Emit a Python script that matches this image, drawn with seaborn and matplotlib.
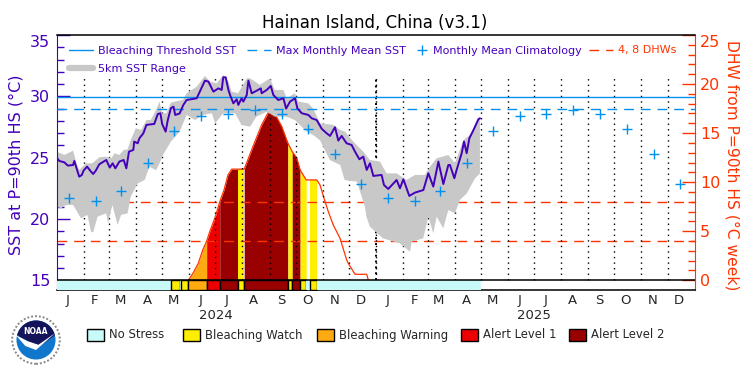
# Hainan Island bleaching chart, SST on the left axis and DHW on the right one
import numpy as np
import pandas as pd
import seaborn as sns
import matplotlib.pyplot as plt
from matplotlib.lines import Line2D
from matplotlib.patches import Patch, Circle, Polygon, Wedge

# all x values are days since 2024-01-01
sst_days = [0, 3.2, 9, 13, 19, 20.4, 23, 26, 29, 31, 35, 39.5, 42, 45, 49, 57, 61, 64.3, 67.4, 72, 77, 80, 83, 88, 89,
            93, 95, 99.5, 103, 112, 116, 119, 121, 125, 127.5, 131, 134, 136, 141, 145.3, 149, 160.6, 163.6, 170, 174,
            179.7, 185.4, 189.2, 191, 193.8, 196.9, 198.8, 202.6, 206.4, 208.3, 212, 214, 217.9, 219.8, 223.6, 229.3,
            234, 235, 240.8, 245.4, 248.4, 254, 259.9, 263, 267.5, 273.2, 275.9, 280.9, 288.5, 292.3, 298, 303.8,
            309.4, 313.3, 319, 322.8, 326.6, 332.3, 338, 341.9, 346.9, 351.4, 355.3, 359, 362.9, 372.4, 375.1, 380,
            389.6, 393.4, 397.3, 404.1, 410.6, 420.2, 425.9, 431.6, 437.4, 443.1, 448.8, 450.7, 455.7, 458.3, 464.1,
            466.8, 469.8, 472.9, 476.7, 479.4, 483.2, 485.1]
sst_vals = [25.03, 24.73, 24.62, 24.35, 24.40, 24.73, 24.13, 23.45, 23.59, 23.94, 24.27, 23.86, 23.67, 23.94, 24.46,
            24.81, 24.19, 24.54, 24.13, 24.68, 24.81, 24.13, 25.49, 25.63, 26.31, 26.17, 26.58, 26.99, 27.67, 27.75,
            28.56, 28.62, 27.75, 27.12, 28.07, 29.03, 29.16, 28.48, 28.6, 29.3, 29.7, 29.84, 30.3, 31.28, 31.2, 30.38,
            30.65, 30.52, 31.55, 31.55, 30.52, 30.11, 29.43, 29.76, 29.3, 29.84, 29.57, 30.11, 31.28, 30.25, 30.46,
            30.65, 30.25, 30.52, 30.85, 30.11, 29.7, 29.84, 29.0, 29.57, 29.84, 29.02, 28.62, 28.48, 28.21, 28.07,
            27.35, 26.99, 26.77, 27.48, 26.39, 26.77, 26.17, 26.04, 25.49, 24.87, 25.08, 24.0, 24.54, 23.51, 23.59,
            22.77, 22.45, 23.18, 22.5, 23.24, 21.88, 22.15, 22.36, 23.73, 22.64, 24.68, 22.85, 24.4, 24.4, 23.32, 24.0,
            25.36, 26.31, 25.36, 26.58, 27.12, 27.53, 28.13, 28.21]

range_top_days = [0, 9, 19, 23, 26, 34, 41, 49, 57, 63, 66.5, 72, 77, 81.5, 85, 91, 97, 103, 108, 114, 118, 121, 126,
                  131, 145, 149, 160.6, 170, 176, 183.5, 191, 197, 200.7, 208, 218, 221.7, 233, 244.6, 250, 260,
                  263.7, 273, 277, 288.5, 294, 302, 317, 325, 330.4, 340, 351.4, 359, 370.5, 378, 389.6, 401, 410.6,
                  422, 427.8, 435.4, 448.8, 456.4, 466, 473.6, 485]
range_top = [25.49, 25.22, 25.57, 24.54, 24.0, 24.54, 24.54, 25.03, 25.08, 24.95, 25.36, 25.22, 25.63, 25.68, 26.44,
             27.4, 27.26, 28.07, 28.07, 28.89, 29.57, 28.62, 28.62, 29.49, 29.71, 30.25, 30.79, 31.66, 31.2, 31.06,
             31.74, 31.2, 30.38, 30.25, 31.47, 31.47, 30.93, 31.47, 30.52, 30.52, 29.84, 30.25, 29.57, 29.43, 29.0,
             27.8, 27.67, 27.26, 27.12, 26.31, 25.49, 24.81, 24.68, 23.72, 23.72, 23.18, 23.59, 23.59, 24.27, 24.95,
             25.22, 24.54, 26.44, 26.85, 28.35]
range_low_days = [0, 5, 11, 19, 22.5, 28, 35.5, 39.5, 42, 47, 57, 59, 64, 70, 74, 81.5, 85, 93, 101, 106.5, 114, 118,
                  122, 131, 141, 149, 158.7, 168, 178, 181.6, 191, 204.5, 212, 221.7, 229, 241, 250, 263.7, 273,
                  286.6, 294, 302, 313, 325, 330, 344, 353.3, 355, 359, 374, 393.4, 405, 406.8, 420, 426, 431.6,
                  435.4, 443, 448.8, 456.4, 462, 470, 479.4, 485]
range_low = [21.0, 20.87, 21.14, 21.14, 20.73, 20.05, 20.33, 18.97, 18.9, 20.19, 20.46, 19.65, 21.14, 19.51, 20.33,
             20.46, 21.82, 22.9, 23.18, 24.27, 23.97, 24.54, 25.22, 26.31, 27.12, 28.48, 28.07, 28.48, 28.62, 27.8,
             28.62, 28.62, 27.66, 27.53, 28.34, 28.75, 28.34, 28.34, 28.07, 27.12, 26.85, 26.4, 24.81, 24.4, 23.18,
             23.05, 21.0, 20.19, 19.37, 18.42, 18.01, 17.33, 18.15, 18.42, 20.19, 18.83, 20.19, 19.24, 20.73, 20.46,
             21.55, 22.09, 23.32, 23.72]

climatology = [21.69, 21.44, 22.31, 24.54, 27.2, 28.43, 28.56, 28.89, 28.54, 27.37, 25.28, 22.83]
threshold_sst = 29.93
max_monthly_mean = 28.93

dhw_days = [151, 156.7, 162.4, 167.5, 172, 175.8, 181.5, 187, 191.9, 196.4, 200.7, 208, 215, 225, 235, 242.3, 250.3,
            258, 265, 270, 275.1, 279, 286, 290, 298, 301.8, 307.6, 311.3, 317, 324.7, 332.4, 334.2, 341.9, 355.3,
            357.2]
dhw_vals = [0, 0.78, 1.73, 3.09, 4.0, 5.03, 6.38, 8.0, 9.21, 10.74, 11.33, 11.33, 11.33, 13.63, 15.85, 17.07, 16.94,
            15.67, 13.98, 13.12, 12.48, 11.26, 10.23, 10.23, 10.23, 9.72, 8.02, 7.0, 5.64, 4.29, 2.07, 1.73, 0.61,
            0.61, 0]
dhw_levels = [4, 8]

stress_edges = [0, 131, 141, 143, 151, 172, 187, 208, 215, 265, 270, 279, 286, 290, 298, 486]
stress_level = ['none', 'watch', 'none', 'watch', 'warning', 'alert1', 'alert2', 'watch', 'alert2', 'watch', 'alert2',
                'watch', 'none', 'watch', 'none']
stress_colors = {'none': '#c8fafa', 'watch': '#ffee00', 'warning': '#ffaa11', 'alert1': '#ee0000', 'alert2': '#990000'}
stress_names = {'none': 'No Stress', 'watch': 'Bleaching Watch', 'warning': 'Bleaching Warning',
                'alert1': 'Alert Level 1', 'alert2': 'Alert Level 2'}

month_letters = list('JFMAMJJASOND') * 2
year_labels = ['2024', '2025']

purple = '#4400bb'
blue = '#0090f0'
orange = '#ff3300'
gray = '#c8c8c8'

sns.set_style('white')
plt.rcParams['font.family'] = ['DejaVu Sans']

base = pd.Timestamp('2024-01-01')
month_starts = pd.date_range(base, '2026-01-01', freq='MS')
month_days = np.array((month_starts - base).days)
clim_days = month_days[:-1] + 14

fig = plt.figure(figsize=(7.5, 3.75), dpi=100)
ax = fig.add_axes([56.5 / 750, 85 / 375, 638.2 / 750, 255 / 375])
ax2 = ax.twinx()
# SST goes in front, so the grey range hides the DHW dashes
ax.set_zorder(ax2.get_zorder() + 1)
ax.patch.set_visible(False)

# DHW fill, one piece per stress period
dhw = pd.DataFrame({'day': dhw_days, 'dhw': dhw_vals})
for i, level in enumerate(stress_level):
    if level == 'none':
        continue
    part = dhw[(dhw['day'] >= stress_edges[i]) & (dhw['day'] <= stress_edges[i + 1])]
    if len(part) > 1:
        ax2.fill_between(part['day'], 0, part['dhw'], color=stress_colors[level], linewidth=0, zorder=1)
for level in dhw_levels:
    ax2.axhline(level, color=orange, linewidth=1, dashes=(7, 5), zorder=2)
sns.lineplot(data=dhw, x='day', y='dhw', color=orange, linewidth=0.9, ax=ax2, zorder=3)

# month lines, the one at the new year is heavier
ax.vlines(month_days[1:-1], 15, 31.6, color='black', linestyle=(0, (1, 3)), linewidth=1, zorder=1)
ax.vlines(month_days[12], 15, 31.6, color='black', linestyle=(0, (1, 2)), linewidth=1.4, zorder=1)

ax.fill(np.r_[range_top_days, range_low_days[::-1]], np.r_[range_top, range_low[::-1]], color=gray, linewidth=0, zorder=2)
ax.axhline(threshold_sst, color=blue, linewidth=1, zorder=3)
ax.axhline(max_monthly_mean, color=blue, linewidth=1, dashes=(7, 5), zorder=3)
sns.lineplot(x=sst_days, y=sst_vals, color=purple, linewidth=1.4, ax=ax, zorder=4)
sns.scatterplot(x=clim_days, y=climatology * 2, marker='+', s=42, color=blue, linewidth=1, ax=ax, zorder=5)

# stress bar under the 15 line
for i, level in enumerate(stress_level):
    edge = 'none' if level == 'none' else 'black'
    ax.broken_barh([(stress_edges[i], stress_edges[i + 1] - stress_edges[i])], (14.21, 0.79),
                   facecolor=stress_colors[level], edgecolor=edge, linewidth=1, zorder=3)
ax.axhline(15, color='black', linewidth=1.1, zorder=6)

ax.set_xlim(0, 731)
ax.set_ylim(14.21, 35)
ax2.set_ylim(-0.99, 25)

ax.set_xticks(month_days[:-1] + 13)
ax.set_xticklabels(month_letters, fontsize=9.5)
ax.tick_params(axis='x', length=0, pad=3)
ax.text(month_days[6], -0.10, year_labels[0], transform=ax.get_xaxis_transform(), ha='center', va='center', fontsize=9.5)
ax.text(month_days[18], -0.10, year_labels[1], transform=ax.get_xaxis_transform(), ha='center', va='center', fontsize=9.5)

ax.set_yticks([15, 20, 25, 30, 35])
ax.set_yticks(range(15, 36), minor=True)
ax.tick_params(axis='y', which='major', direction='in', length=9.5, width=1, color=purple, labelcolor=purple,
               labelsize=11.5, pad=4.5, left=True)
ax.tick_params(axis='y', which='minor', direction='in', length=5, width=1, color=purple, left=True)
ax.set_ylabel('SST at P=90th HS (°C)', color=purple, fontsize=11.5, va='center')
ax.yaxis.set_label_coords(-0.0635, 0.49)

ax2.set_yticks([0, 5, 10, 15, 20, 25])
ax2.set_yticks(range(0, 26), minor=True)
ax2.tick_params(axis='y', which='major', direction='in', length=9.5, width=1, color=orange, labelcolor=orange,
                labelsize=11.5, pad=3.8, right=True)
ax2.tick_params(axis='y', which='minor', direction='in', length=5, width=1, color=orange, right=True)
ax2.set_ylabel('DHW from P=90th HS (°C week)', color=orange, fontsize=11.2, rotation=270, va='center')
ax2.yaxis.set_label_coords(1.059, 0.49)

# the top labels sit under the corner of the frame
ax.get_yticklabels()[-1].set_verticalalignment('top')
ax2.get_yticklabels()[-1].set_verticalalignment('top')

for name in ['top', 'bottom']:
    ax.spines[name].set_color('black')
    ax.spines[name].set_linewidth(1.1)
ax.spines['left'].set_color(purple)
ax.spines['right'].set_visible(False)
ax2.spines['right'].set_color(orange)
ax2.spines['left'].set_visible(False)
ax2.spines['top'].set_visible(False)
ax2.spines['bottom'].set_visible(False)
ax.set_xlabel('')
ax2.set_xlabel('')

fig.text(0.5, 1 - 23 / 375, 'Hainan Island, China (v3.1)', ha='center', va='center', fontsize=12, color='black')

# legends inside the plot: each entry has its own place, as the + has a short handle
entries = [(Line2D([], [], color=blue, linewidth=1), 'Bleaching Threshold SST', purple, 69, 50.5, 2.15),
           (Line2D([], [], color=blue, linewidth=1, dashes=(7, 5)), 'Max Monthly Mean SST', purple, 247, 50.5, 2.15),
           (Line2D([], [], color=blue, marker='+', markersize=7, linestyle='none'), 'Monthly Mean Climatology', purple, 416.5, 50.5, 1.0),
           (Line2D([], [], color=orange, linewidth=1, dashes=(7, 5)), '4, 8 DHWs', orange, 589, 50.5, 2.15),
           (Line2D([], [], color=gray, linewidth=4.5), '5km SST Range', purple, 69, 68.7, 2.15)]
for handle, label, color, x_px, y_px, hlen in entries:
    leg = ax.legend([handle], [label], frameon=False, fontsize=8, handlelength=hlen, handletextpad=0.45,
                    loc='center left', bbox_to_anchor=((x_px - 56.5) / 638.2, (290 - y_px) / 255), borderaxespad=0,
                    borderpad=0, labelcolor=color)
    ax.add_artist(leg)
ax.legend_ = None

# stress legend under the plot
level_x = [87, 183, 317, 461, 569]
for key, x_px in zip(stress_colors, level_x):
    fig.legend([Patch(facecolor=stress_colors[key], edgecolor='black', linewidth=1)], [stress_names[key]], frameon=False,
               fontsize=8.4, handlelength=1.45, handleheight=1.2, handletextpad=0.43, loc='center left',
               bbox_to_anchor=(x_px / 750, 1 - 335 / 375), borderaxespad=0, borderpad=0)

# NOAA logo
logo = fig.add_axes([11 / 750, 1 - 365 / 375, 50 / 750, 50 / 375])
logo.set_xlim(-1.05, 1.05)
logo.set_ylim(-1.05, 1.05)
logo.set_aspect('equal')
logo.axis('off')
logo.add_patch(Circle((0, 0), 1, facecolor='white', edgecolor='#888888', linewidth=1.4, linestyle=(0, (1, 1))))
logo.add_patch(Circle((0, 0), 0.82, facecolor='#1177cc', edgecolor='none'))
logo.add_patch(Wedge((0, 0), 0.82, 15, 165, facecolor='#14145a', edgecolor='none'))
logo.add_patch(Polygon([(-0.8, 0.2), (0.8, 0.2), (0.1, -0.3)], facecolor='#14145a', edgecolor='none'))
logo.add_patch(Polygon([(-0.84, 0.2), (-0.45, -0.25), (0.0, -0.42), (0.82, 0.3), (0.1, -0.2), (-0.35, -0.05)],
                       facecolor='white', edgecolor='none'))
logo.text(0, 0.35, 'NOAA', color='white', fontsize=5.5, fontweight='bold', ha='center', va='center')

fig.savefig('out.png', dpi=100)
